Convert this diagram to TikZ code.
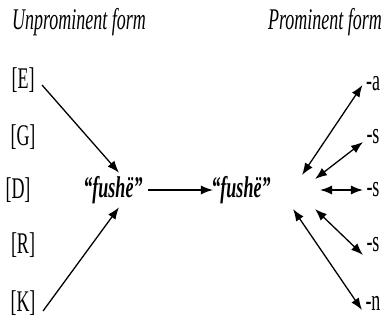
\documentclass[tikz,border=0pt]{standalone}
\usepackage{fontspec}
\setmainfont{Liberation Serif}[FakeStretch=0.6]
\usepackage{tikz}
\usetikzlibrary{arrows.meta}

\begin{document}
\begin{tikzpicture}[x=1pt, y=-1pt, font=\fontsize{30}{34}\selectfont]
            \useasboundingbox (0,0) rectangle (386,322);
            \tikzset{conn/.style={line width=1.3pt, arrows={-{Latex[length=12pt,width=9pt]}}},
                     biconn/.style={line width=1.3pt, arrows={{Latex[length=12pt,width=9pt]}-{Latex[length=12pt,width=9pt]}}}}
            % Draw the two headings on top
            \node (Unprom) at (79,22) {\itshape Unprominent form};
            \node (Prom) at (325,22) {\itshape Prominent form};

            % Draw the dialect labels on the left
            \foreach \name/\x/\y in {E/23/80, G/23/137, D/18/190, R/23/245, K/23/303} {
                    \node (\name) at (\x, \y) {[\name]};
                }

            % Draw the two forms in the middle
            \node (Form_L) at (113,190) {\bfseries\itshape “fushë”};
            \node (Form_R) at (241,190) {\bfseries\itshape “fushë”};
            \draw[conn] ([xshift=2pt]Form_L.east) -- ([xshift=5pt]Form_R.west);

            % Connect the outer labels to the unprominent form
            \draw[conn] ([shift={(4,5)}]E.east) -- ([xshift=6pt]Form_L.north);
            \draw[conn] ([shift={(4,8)}]K.east) -- ([xshift=6pt]Form_L.south);

            % Draw the suffixes on the right and add double arrows
            \foreach \suf/\y/\dx/\dy/\ey [count=\i] in {-a/84/28/-15/1, -s/137/41/-11/5, -s/190/46/0/0, -s/245/41/19/10, -n/303/19/19/7} {
                    \node (Suf_\i) at (373, \y) {\suf};
                    \draw[biconn] ([shift={(\dx,\dy)}]Form_R.east) -- ([yshift=-\ey pt]Suf_\i.west);
                }
        \end{tikzpicture}
\end{document}
